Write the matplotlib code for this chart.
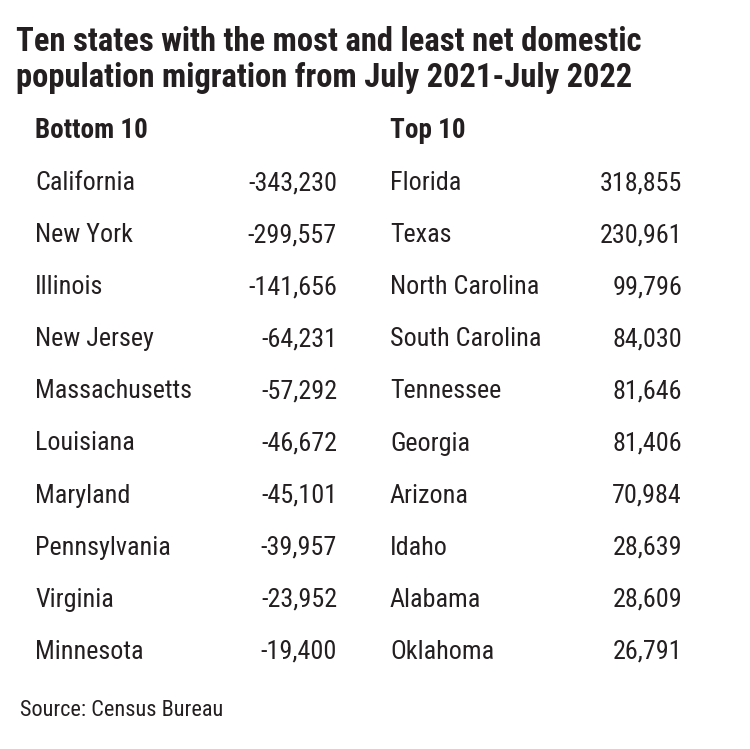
import matplotlib.pyplot as plt
from matplotlib import font_manager

# Data
title = "Ten states with the most and least net domestic\npopulation migration from July 2021-July 2022"
bottom_states = ["California", "New York", "Illinois", "New Jersey", "Massachusetts",
                 "Louisiana", "Maryland", "Pennsylvania", "Virginia", "Minnesota"]
bottom_values = [-343230, -299557, -141656, -64231, -57292,
                 -46672, -45101, -39957, -23952, -19400]
top_states = ["Florida", "Texas", "North Carolina", "South Carolina", "Tennessee",
              "Georgia", "Arizona", "Idaho", "Alabama", "Oklahoma"]
top_values = [318855, 230961, 99796, 84030, 81646,
              81406, 70984, 28639, 28609, 26791]
source = "Source: Census Bureau"

# pick a narrow face if one is around
names = {f.name for f in font_manager.fontManager.ttflist}
font = 'DejaVu Sans'
for cand in ["Roboto Condensed", "PT Sans Narrow", "Archivo Narrow",
             "Liberation Sans Narrow", "Open Sans Condensed"]:
    if cand in names:
        font = cand
        break
plt.rcParams['font.family'] = [font, 'DejaVu Sans']

fig = plt.figure(figsize=(7.5, 7.49), dpi=100)
ax = fig.add_axes([0, 0, 1, 1])
ax.set_xlim(0, 750)
ax.set_ylim(749, 0)
ax.axis('off')

ink = '#231f20'
ax.text(16, 60, title, fontsize=23.5, fontweight='bold', color=ink,
        va='center', ha='left', linespacing=1.15)

ax.text(35, 131, "Bottom 10", fontsize=19.5, fontweight='bold', color=ink, va='center')
ax.text(390, 131, "Top 10", fontsize=19.5, fontweight='bold', color=ink, va='center')

fs = 18.8
y0, dy = 183, 52.1
for i, (s, v) in enumerate(zip(bottom_states, bottom_values)):
    y = y0 + i * dy
    ax.text(35, y, s, fontsize=fs, color=ink, va='center')
    ax.text(337, y, f"{v:,}", fontsize=fs, color=ink, va='center', ha='right')
for i, (s, v) in enumerate(zip(top_states, top_values)):
    y = y0 + i * dy
    ax.text(390, y, s, fontsize=fs, color=ink, va='center')
    ax.text(682, y, f"{v:,}", fontsize=fs, color=ink, va='center', ha='right')

ax.text(20, 710, source, fontsize=16, color=ink, va='center')

fig.savefig('out.png', dpi=100, facecolor='white')
